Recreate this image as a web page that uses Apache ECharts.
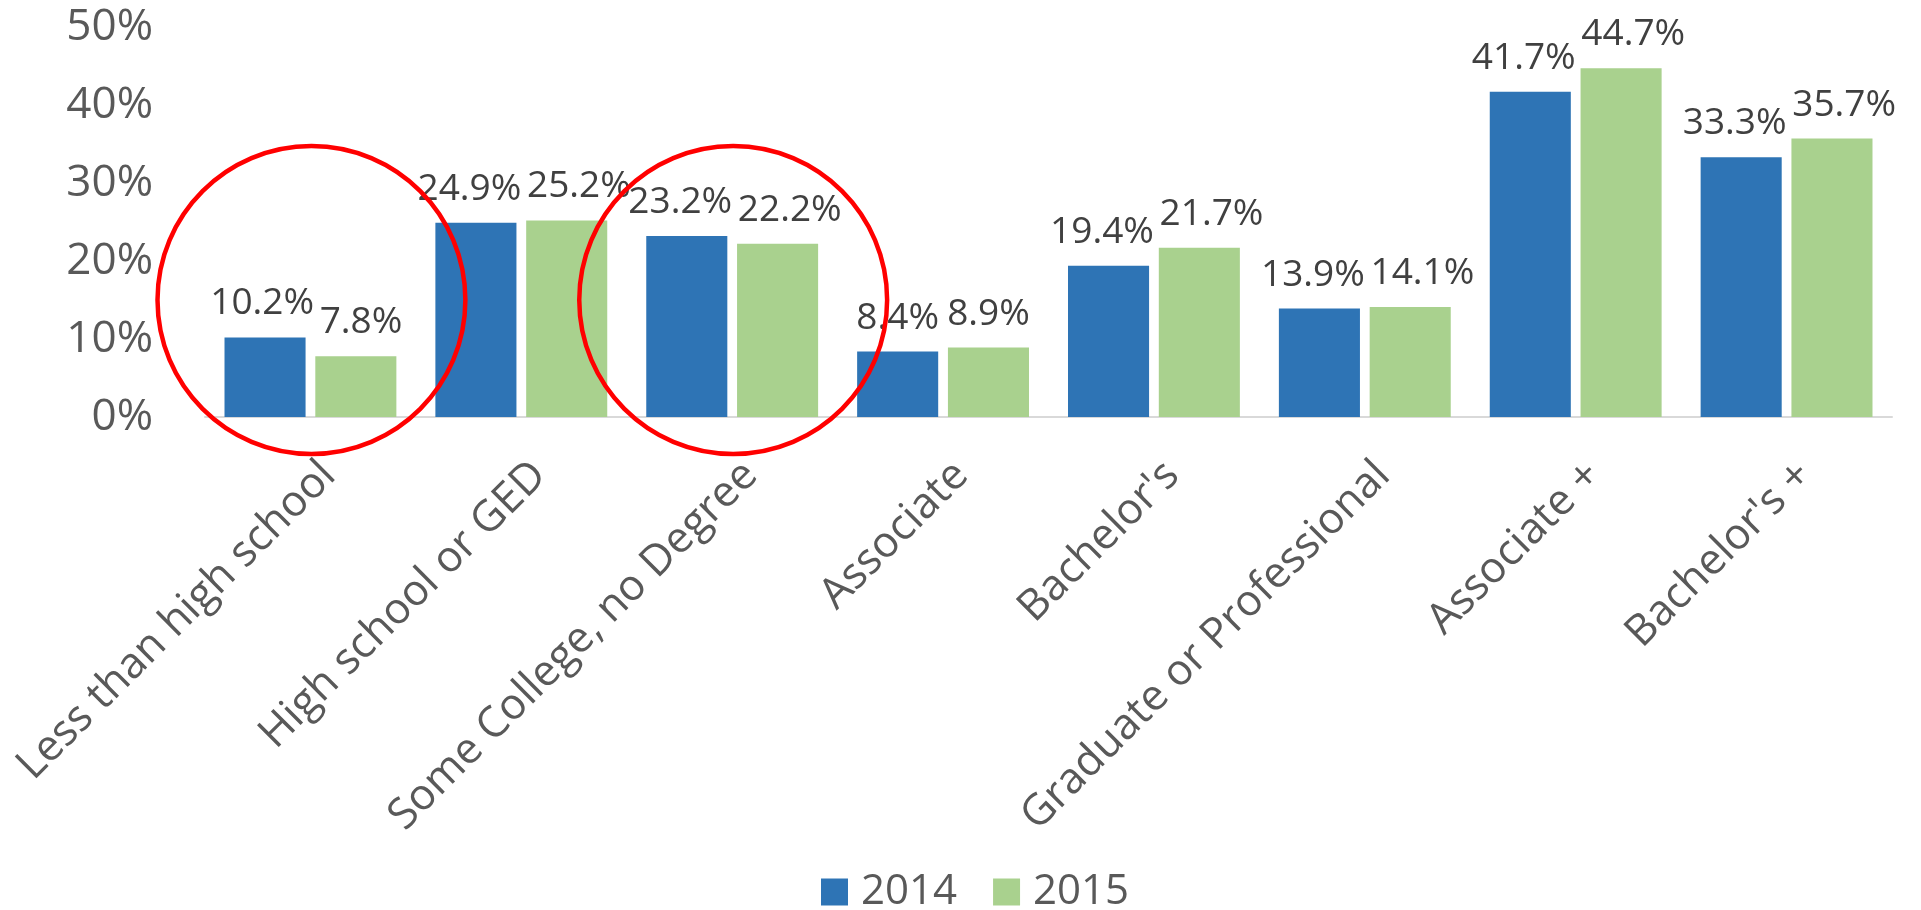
<!DOCTYPE html>
<html>
<head>
<meta charset="utf-8">
<script src="https://cdn.jsdelivr.net/npm/echarts@6/dist/echarts.min.js"></script>
<style>
  html, body { margin: 0; padding: 0; background: #fff; }
  #chart { width: 1921px; height: 910px; }
</style>
</head>
<body>
<div id="chart"></div>
<script>
var categories = ['Less than high school', 'High school or GED', 'Some College, no Degree', 'Associate',
  "Bachelor's", 'Graduate or Professional', 'Associate +', "Bachelor's +"];
var values2014 = [10.2, 24.9, 23.2, 8.4, 19.4, 13.9, 41.7, 33.3];
var values2015 = [7.8, 25.2, 22.2, 8.9, 21.7, 14.1, 44.7, 35.7];
var yTicks = [0, 10, 20, 30, 40, 50];
// categories the red circles are drawn around
var circled = [0, 2];

var FONT = '"Open Sans", "Noto Sans", sans-serif';
var series = [values2014, values2015];

// push the two labels of a pair apart when they would overlap (like Excel does)
function pairShift(params) {
  var i = params.dataIndex, s = params.seriesIndex;
  var own = series[s][i].toFixed(1) + '%';
  var other = series[1 - s][i].toFixed(1) + '%';
  var w = params.labelRect.width;
  var otherW = w * other.length / own.length;
  var dist = params.rect.width + 10;
  var overlap = (w + otherW) / 2 + 6 - dist;
  if (overlap <= 0) return {};
  return { dx: s === 0 ? -overlap * 0.35 : overlap * 0.65 };
}

var myChart = echarts.init(document.getElementById('chart'));
myChart.setOption({
  animation: false,
  textStyle: { fontFamily: FONT },
  grid: { left: 205, right: 29, top: 27, bottom: 493 },
  legend: {
    data: ['2014', '2015'],
    left: 816,
    top: 866,
    itemWidth: 27,
    itemHeight: 27,
    itemGap: 36,
    icon: 'rect',
    textStyle: { fontSize: 42, color: '#595959', fontFamily: FONT, padding: [0, 0, 0, 8] }
  },
  xAxis: {
    type: 'category',
    data: categories,
    axisLine: { lineStyle: { color: '#D9D9D9', width: 2 } },
    axisTick: { show: false },
    axisLabel: {
      interval: 0,
      rotate: 45,
      margin: 70,
      fontSize: 43,
      lineHeight: 43,
      color: '#595959',
      padding: [0, -26, 0, 0]
    }
  },
  yAxis: {
    type: 'value',
    min: yTicks[0],
    max: yTicks[yTicks.length - 1],
    interval: 10,
    splitLine: { show: false },
    axisLine: { show: false },
    axisTick: { show: false },
    axisLabel: { formatter: '{value}%', fontSize: 44, color: '#595959', margin: 52 }
  },
  series: [
    {
      name: '2014',
      type: 'bar',
      data: values2014,
      barGap: '12%',
      barCategoryGap: '18.5%',
      itemStyle: { color: '#2E74B5' },
      label: {
        show: true, position: 'top', distance: 15,
        fontSize: 37, color: '#404040',
        formatter: function (p) { return p.value.toFixed(1) + '%'; }
      },
      labelLayout: pairShift
    },
    {
      name: '2015',
      type: 'bar',
      data: values2015,
      itemStyle: { color: '#A9D18E' },
      label: {
        show: true, position: 'top', distance: 15,
        fontSize: 37, color: '#404040',
        formatter: function (p) { return p.value.toFixed(1) + '%'; }
      },
      labelLayout: pairShift
    }
  ]
});

// red circles drawn around the highlighted categories
var p0 = myChart.convertToPixel({ xAxisIndex: 0, yAxisIndex: 0 }, [0, 0]);
var p1 = myChart.convertToPixel({ xAxisIndex: 0, yAxisIndex: 0 }, [1, 15]);
var band = p1[0] - p0[0];
var circles = circled.map(function (c) {
  var pt = myChart.convertToPixel({ xAxisIndex: 0, yAxisIndex: 0 }, [c, 15]);
  return {
    type: 'ellipse',
    shape: { cx: pt[0] + 1, cy: pt[1], rx: band * 0.73, ry: band * 0.73 },
    style: { fill: 'none', stroke: '#FF0000', lineWidth: 4.5 },
    z: 100
  };
});
myChart.setOption({ graphic: circles });
</script>
</body>
</html>
